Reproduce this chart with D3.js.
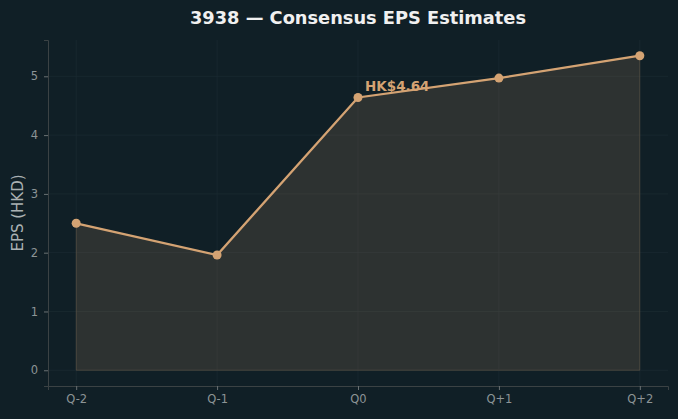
<!DOCTYPE html>
<html><head><meta charset="utf-8">
<script src="https://cdn.jsdelivr.net/npm/d3@7"></script>
<style>html,body{margin:0;padding:0;background:#101f26;}svg{display:block;}</style>
</head><body><svg id="c" width="678" height="419"></svg>
<script>
const categories = ["Q-2","Q-1","Q0","Q+1","Q+2"];
const epsValues = [2.50, 1.96, 4.64, 4.97, 5.35];
const yTicks = [0,1,2,3,4,5];
const annotationText = "HK$4.64";

const W=678,H=419;
const m={l:48,r:10,t:40,b:33};
const svg=d3.select("#c");
svg.append("rect").attr("width",W).attr("height",H).attr("fill","#101f26");
const x=d3.scaleLinear().domain([-0.2,4.2]).range([m.l,W-m.r]);
const y=d3.scaleLinear().domain([-0.2675,5.6175]).range([H-m.b,m.t]);
const g=svg.append("g");
// grid
g.selectAll(".gx").data(categories).join("line").attr("x1",(d,i)=>x(i)).attr("x2",(d,i)=>x(i)).attr("y1",m.t).attr("y2",H-m.b).attr("stroke","#1a2a31").attr("stroke-width",0.8);
g.selectAll(".gy").data(yTicks).join("line").attr("y1",d=>y(d)).attr("y2",d=>y(d)).attr("x1",m.l).attr("x2",W-m.r).attr("stroke","#1a2a31").attr("stroke-width",0.8);
// area
const area=d3.area().x((d,i)=>x(i)).y0(y(0)).y1(d=>y(d));
g.append("path").datum(epsValues).attr("d",area).attr("fill","rgba(212,163,115,0.15)").attr("stroke","rgba(212,163,115,0.2)").attr("stroke-width",1);
const line=d3.line().x((d,i)=>x(i)).y(d=>y(d));
g.append("path").datum(epsValues).attr("d",line).attr("fill","none").attr("stroke","#d4a373").attr("stroke-width",2.3);
g.selectAll(".pt").data(epsValues).join("circle").attr("cx",(d,i)=>x(i)).attr("cy",d=>y(d)).attr("r",4.5).attr("fill","#d4a373");
// axes
const xa=d3.axisBottom(x).tickValues(d3.range(categories.length)).tickFormat(i=>categories[i]).tickSize(4).tickPadding(5);
const ya=d3.axisLeft(y).tickValues(yTicks).tickFormat(d3.format("d")).tickSize(4).tickPadding(6);
const xg=svg.append("g").attr("transform",`translate(0,${H-m.b})`).call(xa);
const yg=svg.append("g").attr("transform",`translate(${m.l},0)`).call(ya);
[xg,yg].forEach(a=>{
  a.select(".domain").attr("stroke","#3b4244").attr("stroke-width",1);
  a.selectAll(".tick line").attr("stroke","#6a7173");
  a.selectAll(".tick text").attr("fill","#8c9496").attr("font-family","DejaVu Sans").attr("font-size",11.5);
});
// annotation
svg.append("text").attr("x",x(2)+7).attr("y",y(4.64)-6).attr("fill","#d4a373").attr("font-family","DejaVu Sans").attr("font-weight","bold").attr("font-size",13.5).text(annotationText);
// title
svg.append("text").attr("x",(m.l+W-m.r)/2).attr("y",24).attr("text-anchor","middle").attr("fill","#f0f0f0").attr("font-family","DejaVu Sans").attr("font-weight","bold").attr("font-size",17.8).text("3938 — Consensus EPS Estimates");
// y label
svg.append("text").attr("transform",`translate(23,${(m.t+H-m.b)/2}) rotate(-90)`).attr("text-anchor","middle").attr("fill","#aab1b3").attr("font-family","DejaVu Sans").attr("font-size",15).text("EPS (HKD)");
</script></body></html>
